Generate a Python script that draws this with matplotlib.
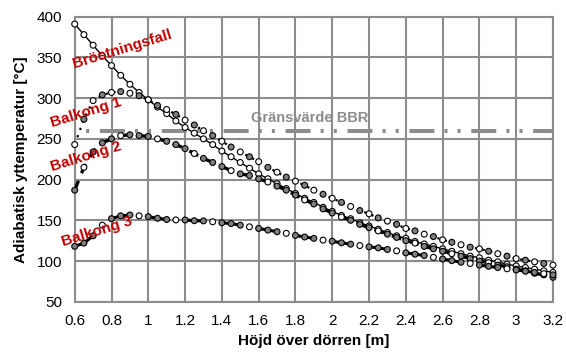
import numpy as np
import matplotlib
matplotlib.use("Agg")
import matplotlib.pyplot as plt

plt.rcParams['font.family'] = ['Liberation Sans', 'DejaVu Sans']

# heights above the door [m], sampled every 0.05 m
hojd = np.round(np.arange(0.6, 3.2001, 0.05), 2)

brostningsfall = [391, 378, 365, 352, 340, 328, 317, 307, 298,
                  289, 281, 272, 264, 257, 250, 243, 235, 228, 221,
                  214, 207, 201, 195, 189, 183, 177, 172, 166, 161,
                  156, 152, 147, 143, 139, 135, 131, 128, 124, 121,
                  118, 115, 112, 109, 106, 104, 101, 99, 96, 94,
                  92, 90, 88, 86]
balkong1 = [243, 274, 297, 304, 307, 308, 306, 303, 298,
            291, 286, 280, 273, 267, 260, 254, 247, 240, 234,
            228, 222, 215, 209, 203, 198, 193, 187, 182, 177,
            172, 167, 162, 158, 153, 149, 145, 140, 137, 133,
            130, 126, 123, 120, 117, 115, 112, 109, 106, 103,
            101, 99, 97, 95]
balkong2 = [187, 215, 234, 245, 250, 254, 255, 254, 253,
            250, 247, 243, 238, 232, 226, 221, 216, 211, 207,
            205, 201, 197, 192, 187, 181, 175, 170, 164, 159,
            154, 150, 145, 141, 137, 133, 129, 125, 122, 118,
            115, 112, 109, 106, 103, 100, 98, 95, 93, 90,
            88, 85, 83, 80]
balkong3 = [118, 122, 131, 144, 152, 155.5, 156.5, 155.5, 154.5,
            152.5, 151, 150.5, 150.4, 149.5, 149.3, 148.2, 147, 146, 144,
            142, 140, 138, 136, 134, 131.5, 129.5, 127.8, 125.7, 124.3,
            122.4, 120.7, 119, 117.4, 116.2, 114.2, 112.5, 110, 108.4, 106.8,
            104.5, 102.5, 100.5, 98.5, 97, 95, 93.5, 92, 90.5, 89,
            87.5, 86, 84.5, 83]
gransvarde = 260

xticks = [0.6, 0.8, 1, 1.2, 1.4, 1.6, 1.8, 2, 2.2, 2.4, 2.6, 2.8, 3, 3.2]
yticks = [50, 100, 150, 200, 250, 300, 350, 400]

RED = '#c00000'
GRID = '#8c8c8c'
FILL = '#7f7f7f'


def marker_colors(n, pattern):
    return [pattern[i % len(pattern)] for i in range(n)]


def draw_markers(ax, x, y, pattern):
    ax.scatter(x, y, s=18, facecolors=marker_colors(len(x), pattern),
               edgecolors='black', linewidths=0.8, zorder=4, clip_on=False)


fig = plt.figure(figsize=(5.66, 3.55), dpi=100)
ax = fig.add_axes([0.132, 0.150, 0.845, 0.803])

# limit line, dash-dot-dot (dash lengths in units of linewidth)
ax.plot([hojd[0], hojd[-1]], [gransvarde, gransvarde], color=GRID, lw=2.9,
        dash_capstyle='butt', zorder=2,
        ls=(9.2, (6.2, 2.5, 0.76, 2.5, 0.76, 2.65)))

# Bröstningsfall: thin solid line
ax.plot(hojd, brostningsfall, color='black', lw=1.0, zorder=3)
draw_markers(ax, hojd, brostningsfall, ['white'])

# Balkong 1: dotted
ax.plot(hojd, balkong1, color='black', lw=1.6, ls=(0, (1, 2.5)), zorder=3)
draw_markers(ax, hojd, balkong1, ['white', FILL])

# Balkong 2: heavy dashes
ax.plot(hojd, balkong2, color='black', lw=2.4, ls=(0, (3, 2.5)), zorder=3)
draw_markers(ax, hojd, balkong2, [FILL, 'white', FILL, FILL])

# Balkong 3: groups of three joined points
for k in range(0, len(hojd), 4):
    ax.plot(hojd[k:k + 3], balkong3[k:k + 3], color='black', lw=2.2, zorder=3)
draw_markers(ax, hojd, balkong3, [FILL, FILL, FILL, 'white'])

# labels inside the plot
lbl = dict(color=RED, fontsize=11, fontweight='bold', rotation=17,
           ha='center', va='center', zorder=5)
ax.text(0.86, 360, 'Bröstningsfall', **lbl)
ax.text(0.66, 282, 'Balkong 1', **lbl)
ax.text(0.66, 228, 'Balkong 2', **lbl)
ax.text(0.72, 136, 'Balkong 3', **lbl)
ax.text(1.875, 275, 'Gränsvärde BBR', color=GRID, fontsize=10.5, fontweight='bold',
        ha='center', va='center', zorder=5)

ax.set_xlim(0.6, 3.2)
ax.set_ylim(50, 400)
ax.set_xticks(xticks)
ax.set_xticklabels([str(t) for t in xticks])
ax.set_yticks(yticks)
ax.tick_params(length=0, labelsize=11, pad=9)
ax.grid(True, color=GRID, lw=1.5)
ax.set_axisbelow(True)
for s in ax.spines.values():
    s.set_color(GRID)
    s.set_linewidth(1.5)

ax.set_xlabel('Höjd över dörren [m]', fontsize=11, fontweight='bold', labelpad=4)
ax.set_ylabel('Adiabatisk yttemperatur [°C]', fontsize=11, fontweight='bold', labelpad=6)

fig.savefig('out.png', dpi=100)
